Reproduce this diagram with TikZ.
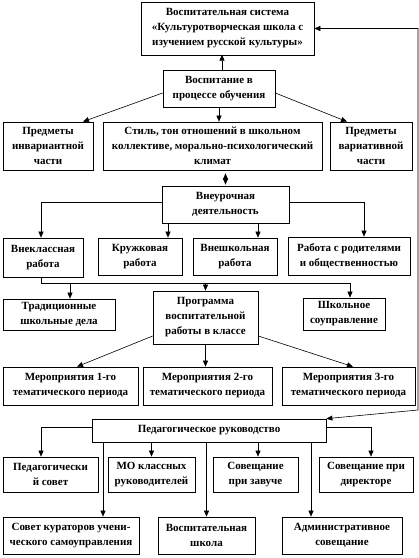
\documentclass[tikz,border=0pt]{standalone}
\usepackage{fontspec}
\setmainfont{Liberation Serif}
\usetikzlibrary{arrows.meta}

\begin{document}
\begin{tikzpicture}[
    x=1pt, y=-1pt,
    box/.style={draw, line width=0.7pt, align=center, inner sep=1pt,
        font=\fontsize{11}{15}\selectfont\bfseries},
    sz/.style 2 args={minimum width=#1pt, minimum height=#2pt},
    edge/.style={line width=0.6pt, -{Triangle[length=6pt,width=5pt]}},
    twoway/.style={line width=0.6pt, {Triangle[length=6pt,width=5pt]}-{Triangle[length=6pt,width=5pt]}},
    link/.style={line width=0.6pt}
]
\useasboundingbox (0,0) rectangle (419,558);

\node[box, sz={173}{53}] (sys) at (227.5,28.5) {Воспитательная  система\\«Культуротворческая школа с\\изучением русской культуры»};
\node[box, sz={112}{37}] (vosp) at (219,88.5) {Воспитание  в\\процессе обучения};
\node[box, sz={90}{48}] (invar) at (48,146) {Предметы\\инвариантной\\части};
\node[box, sz={219}{48}] (stil) at (212.5,146) {Стиль, тон отношений  в школьном\\коллективе, морально-психологический\\климат};
\node[box, sz={82}{48}] (var) at (371,146) {Предметы\\вариативной\\части};
\node[box, sz={127}{37}] (vneur) at (225.5,204.5) {Внеурочная\\деятельность};
\node[box, sz={80}{39}] (vnekl) at (43,257.5) {Внеклассная\\работа};
\node[box, sz={84}{37}] (kruzh) at (140,256.5) {Кружковая\\работа};
\node[box, sz={84}{37}] (vnesh) at (235,256.5) {Внешкольная\\работа};
\node[box, sz={122}{38}] (rodit) at (349,256) {Работа с родителями\\и общественностью};
\node[box, sz={112}{31}] (trad) at (59,314.5) {Традиционные\\школьные дела};
\node[box, sz={105}{53}] (progr) at (205.5,317.5) {Программа\\воспитательной\\работы в классе};
\node[box, sz={82}{32}] (soupr) at (344,314) {Школьное\\соуправление};
\node[box, sz={135}{38}] (mer1) at (70.5,386) {Мероприятия 1-го\\тематического  периода};
\node[box, sz={129}{38}] (mer2) at (207.5,386) {Мероприятия 2-го\\тематического  периода};
\node[box, sz={133}{38}] (mer3) at (348.5,386) {Мероприятия 3-го\\тематического  периода};
\node[box, sz={234}{23}] (ped) at (209,430.5) {Педагогическое  руководство};
\node[box, sz={95}{35}] (pedsov) at (50.5,474.5) {Педагогически\\й совет};
\node[box, sz={87}{35}] (mo) at (151.5,474.5) {МО классных\\руководителей};
\node[box, sz={85}{35}] (zav) at (255.5,474.5) {Совещание\\при завуче};
\node[box, sz={94}{35}] (dir) at (366,474.5) {Совещание  при\\директоре};
\node[box, sz={136}{37}] (kur) at (71,535.5) {Совет кураторов учени-\\ческого самоуправления};
\node[box, sz={97}{37}] (vshk) at (206.5,535.5) {Воспитательная\\школа};
\node[box, sz={120}{37}] (adm) at (342,535.5) {Административное\\совещание};

\coordinate (fbtop) at (418,28.5);
\coordinate (fbbot) at (418,410);
\coordinate (bus) at (41,283);

% upper part
\draw[edge] ([xshift=3pt]vosp.north) -- ++(0,-15);
\draw[edge] ([yshift=-4.5pt]vosp.west) -- ([xshift=35pt]invar.north);
\draw[edge] (vosp.south) -- (vosp.south |- stil.north);
\draw[edge] ([yshift=-4.5pt]vosp.east) -- ([xshift=-24pt]var.north);
\draw[twoway, shorten <=3pt, shorten >=1pt] (stil.south -| vneur.north) -- (vneur.north);

\draw[edge] ([yshift=2.5pt]vneur.west) -| ([xshift=-2pt]vnekl.north);
\draw[edge] ([yshift=2.5pt]vneur.east) -| ([xshift=15pt]rodit.north);
\draw[edge] ([xshift=-57.5pt]vneur.south) -- ([xshift=28pt]kruzh.north);
\draw[edge] ([xshift=32.5pt]vneur.south) -- ([xshift=23pt]vnesh.north);

\draw[link] ([xshift=-2pt]vnekl.south) -- (bus) -- (bus -| 350,0);
\draw[edge] ([xshift=11pt]trad.north) ++(0,-16) -- ++(0,16);
\draw[edge] (bus -| progr.north) -- (progr.north);
\draw[edge] ([xshift=6pt]soupr.north) ++(0,-15) -- ++(0,15);

\draw[edge] ([yshift=-18.5pt]progr.west) -- ([xshift=6.5pt]mer1.north);
\draw[edge] (progr.south) -- (progr.south |- mer2.north);
\draw[edge] ([yshift=-18.5pt]progr.east) -- ([xshift=4.5pt]mer3.north);

% feedback line on the right
\draw[twoway] (sys.east) -- (fbtop) -- (fbbot) -- (ped.north east);

% lower part
\draw[edge] ([yshift=3.5pt]ped.west) -| ([xshift=-9.5pt]pedsov.north);
\draw[edge] ([yshift=3.5pt]ped.east) -| ([xshift=5pt]dir.north);
\draw[edge] (ped.south -| mo.north) -- (mo.north);
\draw[edge] ([xshift=2.5pt]zav.north) ++(0,-15) -- ++(0,15);
\draw[edge] ([xshift=-106pt]ped.south) -- ([xshift=32pt]kur.north);
\draw[edge] (ped.south -| vshk.north) -- (vshk.north);
\draw[edge] ([xshift=102pt]ped.south) -- ([xshift=-31pt]adm.north);

\end{tikzpicture}
\end{document}
